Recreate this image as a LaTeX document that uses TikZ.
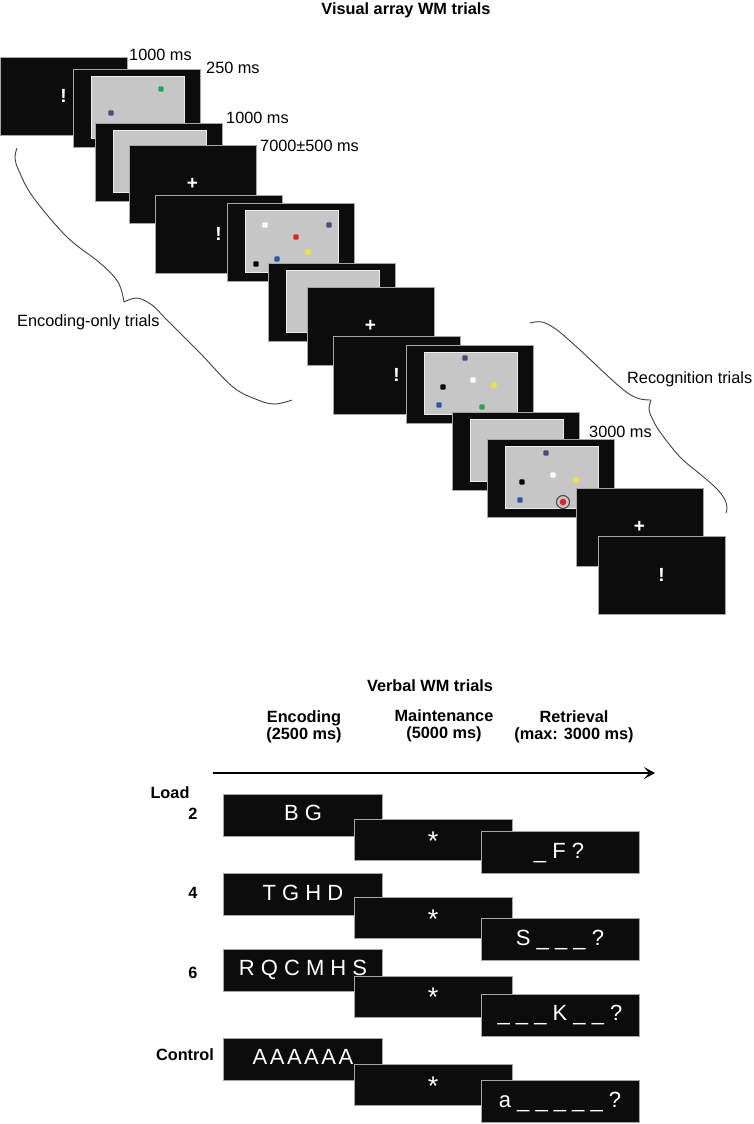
\documentclass[tikz,border=0pt]{standalone}
\usepackage{fontspec}
\setmainfont{Liberation Sans}
\usetikzlibrary{arrows.meta}
\definecolor{dgreen}{RGB}{30,170,80}
\definecolor{dpurple}{RGB}{85,70,130}
\definecolor{dred}{RGB}{225,35,35}
\definecolor{dyellow}{RGB}{240,230,40}
\definecolor{dblue}{RGB}{40,90,160}
\definecolor{scrblack}{RGB}{12,12,12}
\definecolor{scrgray}{RGB}{198,198,198}
\newcommand\blackscr[4]{\node[scr] (#1) at (#2,#3) {}; \node[sym] (#1t) at (#1.center) {#4};}
\newcommand\grayscr[3]{\node[scr] (#1) at (#2,#3) {}; \node[inr] (#1i) at (#2+18,#3+7) {};}
\newcommand\dt[3]{\fill[#1, rounded corners=0.8pt] (#2,#3) ++(-2.6,-2.6) rectangle ++(5.2,5.2);}
\begin{document}
\begin{tikzpicture}[x=1pt,y=-1pt,
  scr/.style={fill=scrblack, draw=gray!70, line width=0.8pt, anchor=north west,
    minimum width=127pt, minimum height=78pt, inner sep=0pt, outer sep=0pt},
  inr/.style={fill=scrgray, draw=white!85!gray, line width=1pt, anchor=north west,
    minimum width=93pt, minimum height=62pt, inner sep=0pt, outer sep=0pt},
  sym/.style={text=white, font=\fontsize{19}{19}\selectfont\bfseries, inner sep=0pt},
  lbl/.style={font=\fontsize{16.3}{17}\selectfont, inner sep=0pt, anchor=west},
  ttl/.style={font=\fontsize{16.3}{17}\selectfont\bfseries, align=center, inner sep=0pt},
  vbox/.style={fill=scrblack, draw=gray!70, line width=0.8pt, anchor=north west,
    minimum width=158pt, minimum height=42pt, inner sep=0pt, outer sep=0pt},
  vtxt/.style={text=white, font=\fontsize{22}{22}\selectfont, anchor=base, inner sep=0pt},
  star/.style={text=white, font=\fontsize{27}{27}\selectfont, anchor=base, inner sep=0pt},
  brace/.style={draw=black!75, line width=0.9pt}]
\useasboundingbox (0,0) rectangle (754,1124);

% ---------- Visual array WM trials ----------
\node[ttl] (t1) at (406,10) {Visual array WM trials};

\blackscr{s1}{0}{57}{!}
\grayscr{s2}{73}{69}
\dt{dgreen}{161}{89}
\dt{dpurple}{111}{113}
\grayscr{s3}{95}{123}
\blackscr{s4}{129}{145}{+}
\blackscr{s5}{155}{195}{!}
\grayscr{s6}{227}{203}
\dt{white}{265}{225}
\dt{dpurple}{329}{225}
\dt{dred}{296}{237}
\dt{dyellow}{308}{252}
\dt{dblue}{277}{259}
\dt{black}{256}{264}
\grayscr{s7}{268}{263}
\blackscr{s8}{307}{287}{+}
\blackscr{s9}{333}{336}{!}
\grayscr{s10}{406}{345}
\dt{dpurple}{465}{358}
\dt{white}{473}{380}
\dt{black}{443}{387}
\dt{dyellow}{494}{385}
\dt{dblue}{439}{405}
\dt{dgreen}{482}{407}
\grayscr{s11}{452}{412}
\grayscr{s12}{487}{439}
\dt{dpurple}{546}{453}
\dt{white}{553}{475}
\dt{black}{522}{482}
\dt{dyellow}{576}{480}
\dt{dblue}{520}{500}
\draw[draw=black!70, line width=1.1pt] (563,502) circle[radius=6.5pt];
\fill[dred] (563,502) circle[radius=3.3pt];
\blackscr{s13}{576}{488}{+}
\blackscr{s14}{598}{536}{!}

\node[lbl] (l1) at (129,55) {1000 ms};
\node[lbl] (l2) at (206,68) {250 ms};
\node[lbl] (l3) at (226,118) {1000 ms};
\node[lbl] (l4) at (260,146) {7000±500 ms};
\node[lbl] (l5) at (589,432) {3000 ms};

\draw[brace] plot[smooth, tension=0.6] coordinates {(17,148) (15,158) (19,171) (33,197) (67,237) (100,263) (118,282) (124,302)};
\draw[brace] plot[smooth, tension=0.6] coordinates {(124,302) (137,298) (152,305) (167,320) (200,353) (233,387) (258,400) (275,404) (292,400)};
\node[lbl] (enc) at (17,322) {Encoding-only trials};

\draw[brace] plot[smooth, tension=0.6] coordinates {(530,323) (542,322) (557,330) (580,350) (620,387) (637,398) (651,400)};
\draw[brace] plot[smooth, tension=0.6] coordinates {(651,400) (649,409) (652,418) (660,432) (680,457) (700,474) (715,487) (724,498) (727,507) (726,513)};
\node[lbl] (rec) at (627,379) {Recognition trials};

% ---------- Verbal WM trials ----------
\node[ttl] (t2) at (430,686) {Verbal WM trials};
\node[ttl] (h1) at (304,727) {Encoding\\(2500 ms)};
\node[ttl] (h2) at (444,726) {Maintenance\\(5000 ms)};
\node[ttl] (h3) at (574,727) {Retrieval\\(max: 3000 ms)};
\coordinate (a1) at (213,773);
\coordinate (a2) at (655,773);
\draw[line width=2.3pt, -{Stealth[length=11pt,width=12pt,inset=5pt]}] (a1) -- (a2);

\node[ttl] (load) at (170,793) {Load};
\node[ttl] (n2) at (193,814) {2};
\node[ttl] (n4) at (193,893) {4};
\node[ttl] (n6) at (193,973) {6};
\node[ttl] (nc) at (185,1055) {Control};

% row 1
\node[vbox, minimum width=159pt] (e1) at (223,794) {};
\node[vtxt] (e1t) at (303,820) {B G};
\node[vbox, minimum height=41pt] (m1) at (354,819) {};
\node[star] (m1t) at (433,850) {*};
\node[vbox] (r1) at (481,831) {};
\node[vtxt] (r1t) at (559,858) {\_ F ?};
% row 2
\node[vbox, minimum width=159pt] (e2) at (223,873) {};
\node[vtxt] (e2t) at (303,900) {T G H D};
\node[vbox, minimum height=41pt] (m2) at (354,897) {};
\node[star] (m2t) at (433,928) {*};
\node[vbox] (r2) at (481,918) {};
\node[vtxt] (r2t) at (560,945) {S \_ \_ \_ ?};
% row 3
\node[vbox, minimum width=159pt] (e3) at (223,949) {};
\node[vtxt] (e3t) at (303,975) {R Q C M H S};
\node[vbox, minimum height=41pt] (m3) at (354,976) {};
\node[star] (m3t) at (433,1006) {*};
\node[vbox] (r3) at (481,994) {};
\node[vtxt] (r3t) at (560,1020) {\_ \_ \_ K \_ \_ ?};
% row 4
\node[vbox, minimum width=159pt] (e4) at (223,1038) {};
\node[vtxt] (e4t) at (303,1064) {A\kern2.5pt A\kern2.5pt A\kern2.5pt A\kern2.5pt A\kern2.5pt A};
\node[vbox, minimum height=41pt] (m4) at (354,1064) {};
\node[star] (m4t) at (433,1095) {*};
\node[vbox] (r4) at (481,1080) {};
\node[vtxt] (r4t) at (560,1107) {a \_ \_ \_ \_ \_ ?};
\end{tikzpicture}
\end{document}
